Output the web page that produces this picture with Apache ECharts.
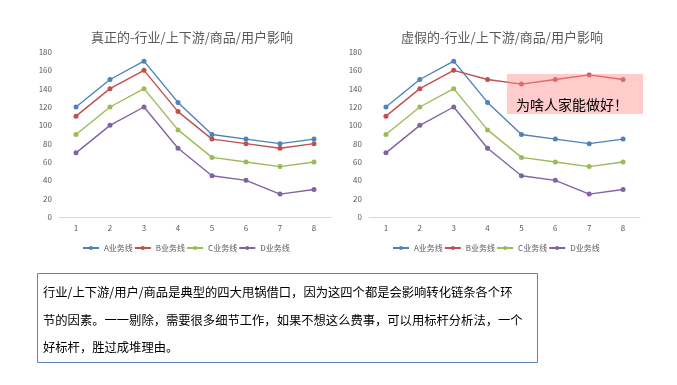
<!DOCTYPE html>
<html>
<head>
<meta charset="utf-8">
<script src="https://cdn.jsdelivr.net/npm/echarts@6/dist/echarts.min.js"></script>
<style>
html,body{margin:0;padding:0;background:#fff;}
#c{width:677px;height:385px;}
</style>
</head>
<body>
<div id="c"></div>
<script>
var categories = ['1','2','3','4','5','6','7','8'];
var seriesNames = ['A业务线','B业务线','C业务线','D业务线'];
var aValues = [120,150,170,125,90,85,80,85];
var bValues = [110,140,160,115,85,80,75,80];
var cValues = [90,120,140,95,65,60,55,60];
var dValues = [70,100,120,75,45,40,25,30];
var bFakeValues = [110,140,160,150,145,150,155,150];
var titleLeft = '真正的-行业/上下游/商品/用户影响';
var titleRight = '虚假的-行业/上下游/商品/用户影响';
var calloutText = '为啥人家能做好！';
var noteLines = [
  '行业/上下游/用户/商品是典型的四大甩锅借口，因为这四个都是会影响转化链条各个环',
  '节的因素。一一剔除，需要很多细节工作，如果不想这么费事，可以用标杆分析法，一个',
  '好标杆，胜过成堆理由。'
];

var colors = ['#4f81bd','#c0504d','#9bbb59','#8064a2'];
var FONT = '"Noto Sans CJK SC", "Noto Sans", sans-serif';

function mkSeries(idx, name, data, color){
  return {
    type:'line', name:name, data:data,
    xAxisIndex:idx, yAxisIndex:idx,
    symbol:'circle', symbolSize:5,
    lineStyle:{width:1.4,color:color},
    itemStyle:{color:color},
    emphasis:{disabled:true},
    animation:false
  };
}
function mkX(idx){
  return {
    type:'category', gridIndex:idx, data:categories, boundaryGap:true,
    axisTick:{show:false},
    axisLine:{lineStyle:{color:'#d9d9d9'}},
    axisLabel:{color:'#595959',fontSize:8,margin:7,fontFamily:FONT}
  };
}
function mkY(idx){
  return {
    type:'value', gridIndex:idx, min:0, max:180, interval:20,
    splitLine:{show:false},
    axisLine:{show:false}, axisTick:{show:false},
    axisLabel:{color:'#595959',fontSize:8,margin:7,fontFamily:FONT}
  };
}
function mkLegend(left){
  return {
    left:left, top:239, itemWidth:16, itemHeight:5, itemGap:1,
    data:seriesNames,
    textStyle:{color:'#595959',fontSize:8,fontFamily:FONT},
    selectedMode:false
  };
}

var chart = echarts.init(document.getElementById('c'), null, {renderer:'canvas'});
var option = {
  backgroundColor:'#ffffff',
  animation:false,
  title:[
    {text:titleLeft, left:187, top:26, textAlign:'center',
     textStyle:{color:'#595959',fontSize:13,fontWeight:'normal',fontFamily:FONT}},
    {text:titleRight, left:497, top:26, textAlign:'center',
     textStyle:{color:'#595959',fontSize:13,fontWeight:'normal',fontFamily:FONT}}
  ],
  grid:[
    {left:59, top:52, width:272, height:165},
    {left:369, top:52, width:271, height:165}
  ],
  xAxis:[mkX(0), mkX(1)],
  yAxis:[mkY(0), mkY(1)],
  legend:[mkLegend(77), mkLegend(387)],
  series:[
    mkSeries(0, seriesNames[0], aValues, colors[0]),
    mkSeries(0, seriesNames[1], bValues, colors[1]),
    mkSeries(0, seriesNames[2], cValues, colors[2]),
    mkSeries(0, seriesNames[3], dValues, colors[3]),
    mkSeries(1, seriesNames[0], aValues, colors[0]),
    mkSeries(1, seriesNames[1], bFakeValues, colors[1]),
    mkSeries(1, seriesNames[2], cValues, colors[2]),
    mkSeries(1, seriesNames[3], dValues, colors[3])
  ],
  graphic:[
    {type:'rect', z:100, shape:{x:507,y:74,width:136,height:40},
     style:{fill:'rgba(255,140,140,0.45)'}},
    {type:'text', z:101, x:572, y:105,
     style:{text:calloutText, fill:'#000', font:'14px '+FONT, align:'center', verticalAlign:'middle'}},
    {type:'rect', z:100, shape:{x:37.5,y:273.5,width:500,height:89},
     style:{fill:'#fff', stroke:'#5f80b8', lineWidth:1}},
    {type:'text', z:101, x:43, y:292,
     style:{text:noteLines[0], fill:'#000', font:'12.3px '+FONT, verticalAlign:'middle'}},
    {type:'text', z:101, x:43, y:320,
     style:{text:noteLines[1], fill:'#000', font:'12.3px '+FONT, verticalAlign:'middle'}},
    {type:'text', z:101, x:43, y:347,
     style:{text:noteLines[2], fill:'#000', font:'12.3px '+FONT, verticalAlign:'middle'}}
  ]
};
chart.setOption(option);
</script>
</body>
</html>
